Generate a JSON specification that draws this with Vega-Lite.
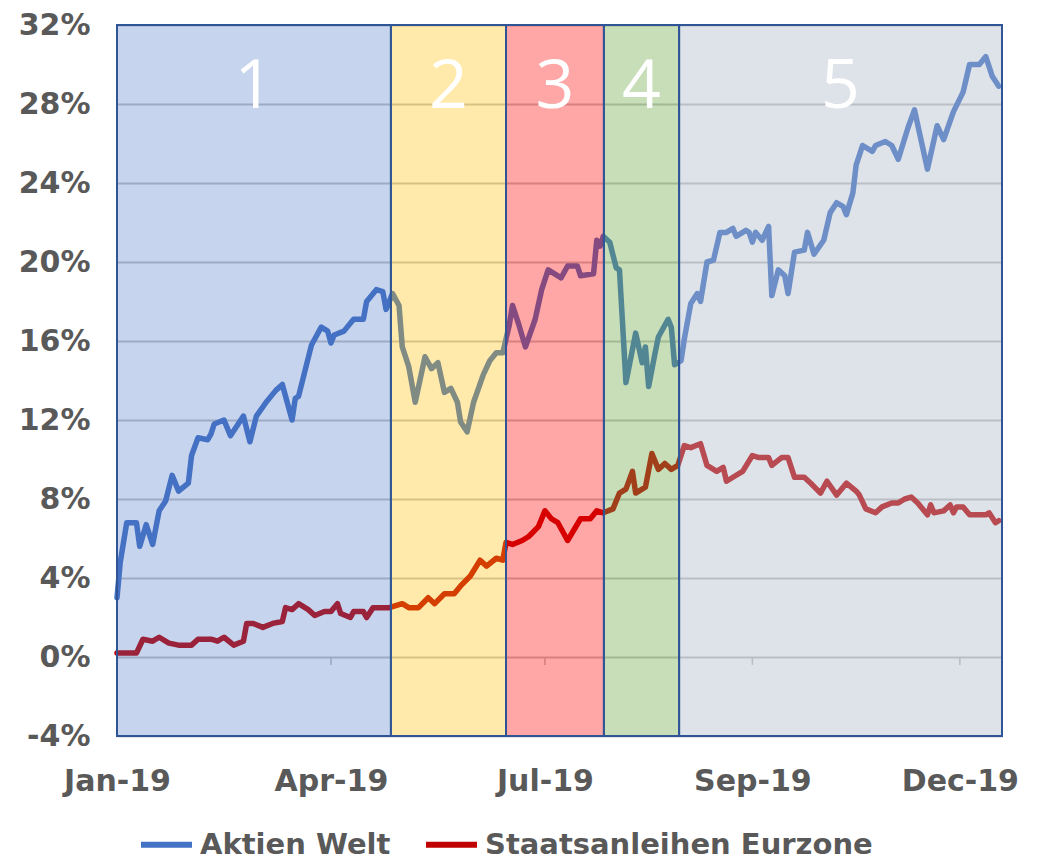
{
  "$schema": "https://vega.github.io/schema/vega-lite/v6.json",
  "width": 885,
  "height": 711,
  "autosize": {"type": "none"},
  "padding": {"left": 117, "top": 25, "right": 37, "bottom": 124},
  "background": "white",
  "config": {"view": {"stroke": null}},
  "datasets": {
    "linien": [
      {"t": 0, "v": 3.0, "serie": "Aktien Welt"}, {"t": 1, "v": 4.8, "serie": "Aktien Welt"}, {"t": 3, "v": 6.8, "serie": "Aktien Welt"}, {"t": 6, "v": 6.8, "serie": "Aktien Welt"}, {"t": 7, "v": 5.6, "serie": "Aktien Welt"}, {"t": 9, "v": 6.7, "serie": "Aktien Welt"}, {"t": 11, "v": 5.7, "serie": "Aktien Welt"}, {"t": 13, "v": 7.4, "serie": "Aktien Welt"}, {"t": 15, "v": 7.9, "serie": "Aktien Welt"}, {"t": 17, "v": 9.2, "serie": "Aktien Welt"}, {"t": 19, "v": 8.4, "serie": "Aktien Welt"}, {"t": 22, "v": 8.8, "serie": "Aktien Welt"}, {"t": 23, "v": 10.2, "serie": "Aktien Welt"}, {"t": 25, "v": 11.1, "serie": "Aktien Welt"}, {"t": 28, "v": 11.0, "serie": "Aktien Welt"}, {"t": 29, "v": 11.3, "serie": "Aktien Welt"}, {"t": 30, "v": 11.8, "serie": "Aktien Welt"}, {"t": 33, "v": 12.0, "serie": "Aktien Welt"}, {"t": 35, "v": 11.2, "serie": "Aktien Welt"}, {"t": 39, "v": 12.2, "serie": "Aktien Welt"}, {"t": 41, "v": 10.9, "serie": "Aktien Welt"}, {"t": 43, "v": 12.2, "serie": "Aktien Welt"}, {"t": 46, "v": 12.9, "serie": "Aktien Welt"}, {"t": 49, "v": 13.5, "serie": "Aktien Welt"}, {"t": 51, "v": 13.8, "serie": "Aktien Welt"}, {"t": 54, "v": 12.0, "serie": "Aktien Welt"}, {"t": 55, "v": 13.1, "serie": "Aktien Welt"}, {"t": 56, "v": 13.2, "serie": "Aktien Welt"}, {"t": 58, "v": 14.5, "serie": "Aktien Welt"}, {"t": 60, "v": 15.8, "serie": "Aktien Welt"}, {"t": 63, "v": 16.7, "serie": "Aktien Welt"}, {"t": 65, "v": 16.5, "serie": "Aktien Welt"}, {"t": 66, "v": 15.9, "serie": "Aktien Welt"}, {"t": 67, "v": 16.3, "serie": "Aktien Welt"}, {"t": 70, "v": 16.5, "serie": "Aktien Welt"}, {"t": 73, "v": 17.1, "serie": "Aktien Welt"}, {"t": 76, "v": 17.1, "serie": "Aktien Welt"}, {"t": 77, "v": 18.0, "serie": "Aktien Welt"}, {"t": 80, "v": 18.6, "serie": "Aktien Welt"}, {"t": 82, "v": 18.5, "serie": "Aktien Welt"}, {"t": 83, "v": 17.6, "serie": "Aktien Welt"}, {"t": 85, "v": 18.4, "serie": "Aktien Welt"}, {"t": 87, "v": 17.8, "serie": "Aktien Welt"}, {"t": 88, "v": 15.7, "serie": "Aktien Welt"}, {"t": 90, "v": 14.7, "serie": "Aktien Welt"}, {"t": 92, "v": 12.9, "serie": "Aktien Welt"}, {"t": 95, "v": 15.2, "serie": "Aktien Welt"}, {"t": 97, "v": 14.6, "serie": "Aktien Welt"}, {"t": 99, "v": 14.9, "serie": "Aktien Welt"}, {"t": 101, "v": 13.4, "serie": "Aktien Welt"}, {"t": 103, "v": 13.6, "serie": "Aktien Welt"}, {"t": 105, "v": 12.9, "serie": "Aktien Welt"}, {"t": 106, "v": 11.9, "serie": "Aktien Welt"}, {"t": 108, "v": 11.4, "serie": "Aktien Welt"}, {"t": 110, "v": 12.9, "serie": "Aktien Welt"}, {"t": 113, "v": 14.3, "serie": "Aktien Welt"}, {"t": 115, "v": 15.0, "serie": "Aktien Welt"}, {"t": 117, "v": 15.4, "serie": "Aktien Welt"}, {"t": 119, "v": 15.4, "serie": "Aktien Welt"}, {"t": 121, "v": 16.8, "serie": "Aktien Welt"}, {"t": 122, "v": 17.8, "serie": "Aktien Welt"}, {"t": 124, "v": 16.8, "serie": "Aktien Welt"}, {"t": 126, "v": 15.7, "serie": "Aktien Welt"}, {"t": 129, "v": 17.1, "serie": "Aktien Welt"}, {"t": 131, "v": 18.6, "serie": "Aktien Welt"}, {"t": 133, "v": 19.6, "serie": "Aktien Welt"}, {"t": 137, "v": 19.2, "serie": "Aktien Welt"}, {"t": 139, "v": 19.8, "serie": "Aktien Welt"}, {"t": 142, "v": 19.8, "serie": "Aktien Welt"}, {"t": 143, "v": 19.3, "serie": "Aktien Welt"}, {"t": 147, "v": 19.4, "serie": "Aktien Welt"}, {"t": 148, "v": 21.1, "serie": "Aktien Welt"}, {"t": 149, "v": 20.8, "serie": "Aktien Welt"}, {"t": 150, "v": 21.3, "serie": "Aktien Welt"}, {"t": 152, "v": 21.0, "serie": "Aktien Welt"}, {"t": 154, "v": 19.7, "serie": "Aktien Welt"}, {"t": 155, "v": 19.6, "serie": "Aktien Welt"}, {"t": 157, "v": 13.9, "serie": "Aktien Welt"}, {"t": 160, "v": 16.4, "serie": "Aktien Welt"}, {"t": 162, "v": 14.9, "serie": "Aktien Welt"}, {"t": 163, "v": 15.7, "serie": "Aktien Welt"}, {"t": 164, "v": 13.7, "serie": "Aktien Welt"}, {"t": 166, "v": 15.4, "serie": "Aktien Welt"}, {"t": 167, "v": 16.2, "serie": "Aktien Welt"}, {"t": 170, "v": 17.1, "serie": "Aktien Welt"}, {"t": 171, "v": 16.7, "serie": "Aktien Welt"}, {"t": 172, "v": 14.8, "serie": "Aktien Welt"}, {"t": 174, "v": 15.0, "serie": "Aktien Welt"}, {"t": 175, "v": 16.1, "serie": "Aktien Welt"}, {"t": 177, "v": 17.9, "serie": "Aktien Welt"}, {"t": 179, "v": 18.4, "serie": "Aktien Welt"}, {"t": 180, "v": 18.0, "serie": "Aktien Welt"}, {"t": 182, "v": 20.0, "serie": "Aktien Welt"}, {"t": 184, "v": 20.1, "serie": "Aktien Welt"}, {"t": 186, "v": 21.5, "serie": "Aktien Welt"}, {"t": 188, "v": 21.5, "serie": "Aktien Welt"}, {"t": 190, "v": 21.7, "serie": "Aktien Welt"}, {"t": 191, "v": 21.3, "serie": "Aktien Welt"}, {"t": 194, "v": 21.6, "serie": "Aktien Welt"}, {"t": 195, "v": 21.5, "serie": "Aktien Welt"}, {"t": 196, "v": 21.0, "serie": "Aktien Welt"}, {"t": 197, "v": 21.5, "serie": "Aktien Welt"}, {"t": 199, "v": 21.1, "serie": "Aktien Welt"}, {"t": 201, "v": 21.8, "serie": "Aktien Welt"}, {"t": 202, "v": 18.3, "serie": "Aktien Welt"}, {"t": 204, "v": 19.6, "serie": "Aktien Welt"}, {"t": 206, "v": 19.3, "serie": "Aktien Welt"}, {"t": 207, "v": 18.4, "serie": "Aktien Welt"}, {"t": 209, "v": 20.5, "serie": "Aktien Welt"}, {"t": 212, "v": 20.6, "serie": "Aktien Welt"}, {"t": 213, "v": 21.5, "serie": "Aktien Welt"}, {"t": 215, "v": 20.4, "serie": "Aktien Welt"}, {"t": 218, "v": 21.1, "serie": "Aktien Welt"}, {"t": 220, "v": 22.5, "serie": "Aktien Welt"}, {"t": 222, "v": 23.0, "serie": "Aktien Welt"}, {"t": 224, "v": 22.8, "serie": "Aktien Welt"}, {"t": 225, "v": 22.4, "serie": "Aktien Welt"}, {"t": 227, "v": 23.5, "serie": "Aktien Welt"}, {"t": 228, "v": 24.9, "serie": "Aktien Welt"}, {"t": 230, "v": 25.9, "serie": "Aktien Welt"}, {"t": 233, "v": 25.6, "serie": "Aktien Welt"}, {"t": 234, "v": 25.9, "serie": "Aktien Welt"}, {"t": 237, "v": 26.1, "serie": "Aktien Welt"}, {"t": 239, "v": 25.9, "serie": "Aktien Welt"}, {"t": 241, "v": 25.2, "serie": "Aktien Welt"}, {"t": 244, "v": 26.8, "serie": "Aktien Welt"}, {"t": 246, "v": 27.7, "serie": "Aktien Welt"}, {"t": 248, "v": 26.2, "serie": "Aktien Welt"}, {"t": 250, "v": 24.7, "serie": "Aktien Welt"}, {"t": 253, "v": 26.9, "serie": "Aktien Welt"}, {"t": 255, "v": 26.2, "serie": "Aktien Welt"}, {"t": 258, "v": 27.6, "serie": "Aktien Welt"}, {"t": 261, "v": 28.6, "serie": "Aktien Welt"}, {"t": 263, "v": 30.0, "serie": "Aktien Welt"}, {"t": 266, "v": 30.0, "serie": "Aktien Welt"}, {"t": 268, "v": 30.4, "serie": "Aktien Welt"}, {"t": 270, "v": 29.4, "serie": "Aktien Welt"}, {"t": 272, "v": 28.9, "serie": "Aktien Welt"},
      {"t": 0, "v": 0.2, "serie": "Staatsanleihen Eurzone"}, {"t": 6, "v": 0.2, "serie": "Staatsanleihen Eurzone"}, {"t": 8, "v": 0.9, "serie": "Staatsanleihen Eurzone"}, {"t": 11, "v": 0.8, "serie": "Staatsanleihen Eurzone"}, {"t": 13, "v": 1.0, "serie": "Staatsanleihen Eurzone"}, {"t": 16, "v": 0.7, "serie": "Staatsanleihen Eurzone"}, {"t": 19, "v": 0.6, "serie": "Staatsanleihen Eurzone"}, {"t": 23, "v": 0.6, "serie": "Staatsanleihen Eurzone"}, {"t": 25, "v": 0.9, "serie": "Staatsanleihen Eurzone"}, {"t": 29, "v": 0.9, "serie": "Staatsanleihen Eurzone"}, {"t": 31, "v": 0.8, "serie": "Staatsanleihen Eurzone"}, {"t": 33, "v": 1.0, "serie": "Staatsanleihen Eurzone"}, {"t": 36, "v": 0.6, "serie": "Staatsanleihen Eurzone"}, {"t": 39, "v": 0.8, "serie": "Staatsanleihen Eurzone"}, {"t": 40, "v": 1.7, "serie": "Staatsanleihen Eurzone"}, {"t": 42, "v": 1.7, "serie": "Staatsanleihen Eurzone"}, {"t": 45, "v": 1.5, "serie": "Staatsanleihen Eurzone"}, {"t": 48, "v": 1.7, "serie": "Staatsanleihen Eurzone"}, {"t": 51, "v": 1.8, "serie": "Staatsanleihen Eurzone"}, {"t": 52, "v": 2.5, "serie": "Staatsanleihen Eurzone"}, {"t": 54, "v": 2.4, "serie": "Staatsanleihen Eurzone"}, {"t": 56, "v": 2.7, "serie": "Staatsanleihen Eurzone"}, {"t": 59, "v": 2.4, "serie": "Staatsanleihen Eurzone"}, {"t": 61, "v": 2.1, "serie": "Staatsanleihen Eurzone"}, {"t": 64, "v": 2.3, "serie": "Staatsanleihen Eurzone"}, {"t": 66, "v": 2.3, "serie": "Staatsanleihen Eurzone"}, {"t": 68, "v": 2.7, "serie": "Staatsanleihen Eurzone"}, {"t": 69, "v": 2.2, "serie": "Staatsanleihen Eurzone"}, {"t": 72, "v": 2.0, "serie": "Staatsanleihen Eurzone"}, {"t": 73, "v": 2.3, "serie": "Staatsanleihen Eurzone"}, {"t": 76, "v": 2.3, "serie": "Staatsanleihen Eurzone"}, {"t": 77, "v": 2.0, "serie": "Staatsanleihen Eurzone"}, {"t": 79, "v": 2.5, "serie": "Staatsanleihen Eurzone"}, {"t": 84, "v": 2.5, "serie": "Staatsanleihen Eurzone"}, {"t": 88, "v": 2.7, "serie": "Staatsanleihen Eurzone"}, {"t": 90, "v": 2.5, "serie": "Staatsanleihen Eurzone"}, {"t": 93, "v": 2.5, "serie": "Staatsanleihen Eurzone"}, {"t": 96, "v": 3.0, "serie": "Staatsanleihen Eurzone"}, {"t": 98, "v": 2.7, "serie": "Staatsanleihen Eurzone"}, {"t": 101, "v": 3.2, "serie": "Staatsanleihen Eurzone"}, {"t": 104, "v": 3.2, "serie": "Staatsanleihen Eurzone"}, {"t": 106, "v": 3.6, "serie": "Staatsanleihen Eurzone"}, {"t": 109, "v": 4.1, "serie": "Staatsanleihen Eurzone"}, {"t": 112, "v": 4.9, "serie": "Staatsanleihen Eurzone"}, {"t": 114, "v": 4.6, "serie": "Staatsanleihen Eurzone"}, {"t": 117, "v": 5.0, "serie": "Staatsanleihen Eurzone"}, {"t": 119, "v": 4.9, "serie": "Staatsanleihen Eurzone"}, {"t": 120, "v": 5.8, "serie": "Staatsanleihen Eurzone"}, {"t": 122, "v": 5.7, "serie": "Staatsanleihen Eurzone"}, {"t": 125, "v": 5.9, "serie": "Staatsanleihen Eurzone"}, {"t": 127, "v": 6.1, "serie": "Staatsanleihen Eurzone"}, {"t": 130, "v": 6.6, "serie": "Staatsanleihen Eurzone"}, {"t": 132, "v": 7.4, "serie": "Staatsanleihen Eurzone"}, {"t": 134, "v": 7.0, "serie": "Staatsanleihen Eurzone"}, {"t": 136, "v": 6.8, "serie": "Staatsanleihen Eurzone"}, {"t": 139, "v": 5.9, "serie": "Staatsanleihen Eurzone"}, {"t": 143, "v": 7.0, "serie": "Staatsanleihen Eurzone"}, {"t": 146, "v": 7.0, "serie": "Staatsanleihen Eurzone"}, {"t": 148, "v": 7.4, "serie": "Staatsanleihen Eurzone"}, {"t": 150, "v": 7.3, "serie": "Staatsanleihen Eurzone"}, {"t": 153, "v": 7.5, "serie": "Staatsanleihen Eurzone"}, {"t": 155, "v": 8.3, "serie": "Staatsanleihen Eurzone"}, {"t": 157, "v": 8.5, "serie": "Staatsanleihen Eurzone"}, {"t": 159, "v": 9.4, "serie": "Staatsanleihen Eurzone"}, {"t": 160, "v": 8.3, "serie": "Staatsanleihen Eurzone"}, {"t": 163, "v": 8.6, "serie": "Staatsanleihen Eurzone"}, {"t": 165, "v": 10.3, "serie": "Staatsanleihen Eurzone"}, {"t": 167, "v": 9.5, "serie": "Staatsanleihen Eurzone"}, {"t": 169, "v": 9.8, "serie": "Staatsanleihen Eurzone"}, {"t": 171, "v": 9.5, "serie": "Staatsanleihen Eurzone"}, {"t": 173, "v": 9.7, "serie": "Staatsanleihen Eurzone"}, {"t": 175, "v": 10.7, "serie": "Staatsanleihen Eurzone"}, {"t": 177, "v": 10.6, "serie": "Staatsanleihen Eurzone"}, {"t": 180, "v": 10.8, "serie": "Staatsanleihen Eurzone"}, {"t": 182, "v": 9.7, "serie": "Staatsanleihen Eurzone"}, {"t": 185, "v": 9.4, "serie": "Staatsanleihen Eurzone"}, {"t": 187, "v": 9.6, "serie": "Staatsanleihen Eurzone"}, {"t": 188, "v": 8.9, "serie": "Staatsanleihen Eurzone"}, {"t": 190, "v": 9.1, "serie": "Staatsanleihen Eurzone"}, {"t": 193, "v": 9.4, "serie": "Staatsanleihen Eurzone"}, {"t": 196, "v": 10.2, "serie": "Staatsanleihen Eurzone"}, {"t": 198, "v": 10.1, "serie": "Staatsanleihen Eurzone"}, {"t": 201, "v": 10.1, "serie": "Staatsanleihen Eurzone"}, {"t": 202, "v": 9.7, "serie": "Staatsanleihen Eurzone"}, {"t": 205, "v": 10.1, "serie": "Staatsanleihen Eurzone"}, {"t": 207, "v": 10.1, "serie": "Staatsanleihen Eurzone"}, {"t": 209, "v": 9.1, "serie": "Staatsanleihen Eurzone"}, {"t": 212, "v": 9.1, "serie": "Staatsanleihen Eurzone"}, {"t": 214, "v": 8.8, "serie": "Staatsanleihen Eurzone"}, {"t": 217, "v": 8.3, "serie": "Staatsanleihen Eurzone"}, {"t": 219, "v": 8.9, "serie": "Staatsanleihen Eurzone"}, {"t": 222, "v": 8.2, "serie": "Staatsanleihen Eurzone"}, {"t": 225, "v": 8.8, "serie": "Staatsanleihen Eurzone"}, {"t": 228, "v": 8.4, "serie": "Staatsanleihen Eurzone"}, {"t": 229, "v": 8.2, "serie": "Staatsanleihen Eurzone"}, {"t": 231, "v": 7.5, "serie": "Staatsanleihen Eurzone"}, {"t": 234, "v": 7.3, "serie": "Staatsanleihen Eurzone"}, {"t": 236, "v": 7.6, "serie": "Staatsanleihen Eurzone"}, {"t": 239, "v": 7.8, "serie": "Staatsanleihen Eurzone"}, {"t": 241, "v": 7.8, "serie": "Staatsanleihen Eurzone"}, {"t": 243, "v": 8.0, "serie": "Staatsanleihen Eurzone"}, {"t": 245, "v": 8.1, "serie": "Staatsanleihen Eurzone"}, {"t": 247, "v": 7.8, "serie": "Staatsanleihen Eurzone"}, {"t": 250, "v": 7.2, "serie": "Staatsanleihen Eurzone"}, {"t": 251, "v": 7.7, "serie": "Staatsanleihen Eurzone"}, {"t": 252, "v": 7.3, "serie": "Staatsanleihen Eurzone"}, {"t": 255, "v": 7.4, "serie": "Staatsanleihen Eurzone"}, {"t": 257, "v": 7.7, "serie": "Staatsanleihen Eurzone"}, {"t": 258, "v": 7.3, "serie": "Staatsanleihen Eurzone"}, {"t": 259, "v": 7.6, "serie": "Staatsanleihen Eurzone"}, {"t": 261, "v": 7.6, "serie": "Staatsanleihen Eurzone"}, {"t": 263, "v": 7.2, "serie": "Staatsanleihen Eurzone"}, {"t": 266, "v": 7.2, "serie": "Staatsanleihen Eurzone"}, {"t": 268, "v": 7.2, "serie": "Staatsanleihen Eurzone"}, {"t": 269, "v": 7.3, "serie": "Staatsanleihen Eurzone"}, {"t": 271, "v": 6.8, "serie": "Staatsanleihen Eurzone"}, {"t": 272, "v": 6.9, "serie": "Staatsanleihen Eurzone"}
    ],
    "phasen": [
      {"phase": "1", "start": 0, "ende": 84.5, "mitte": 42.25},
      {"phase": "2", "start": 84.5, "ende": 120, "mitte": 102.25},
      {"phase": "3", "start": 120, "ende": 150.2, "mitte": 135.1},
      {"phase": "4", "start": 150.2, "ende": 173.4, "mitte": 161.8},
      {"phase": "5", "start": 173.4, "ende": 273, "mitte": 223.2}
    ],
    "ticks": [{"t": 0}, {"t": 66}, {"t": 132}, {"t": 196}, {"t": 260}]
  },
  "layer": [
    {
      "data": {"name": "ticks"},
      "mark": {"type": "rule", "color": "#bfbfbf", "strokeWidth": 1.5},
      "encoding": {
        "x": {"field": "t", "type": "quantitative", "scale": {"domain": [0, 273], "nice": false, "zero": false},
          "axis": {"values": [0, 66, 132, 196, 260], "labelExpr": "datum.value == 0 ? 'Jan-19' : datum.value == 66 ? 'Apr-19' : datum.value == 132 ? 'Jul-19' : datum.value == 196 ? 'Sep-19' : 'Dec-19'", "title": null, "grid": false, "ticks": false, "domain": false, "labelFont": "DejaVu Sans", "labelFontWeight": "bold", "labelFontSize": 30, "labelColor": "#595959", "labelPadding": 30, "labelFlush": false, "labelOverlap": false}},
        "y": {"datum": 0, "type": "quantitative", "scale": {"domain": [-4, 32], "nice": false, "zero": false},
          "axis": {"values": [-4, 0, 4, 8, 12, 16, 20, 24, 28, 32], "labelExpr": "datum.value + '%'", "title": null, "grid": true, "gridColor": "#c4c4c4", "gridWidth": 2, "ticks": false, "domain": false, "labelFont": "DejaVu Sans", "labelFontWeight": "bold", "labelFontSize": 30, "labelColor": "#595959", "labelPadding": 27}},
        "y2": {"datum": -0.4}
      }
    },
    {
      "data": {"name": "linien"},
      "mark": {"type": "line", "strokeWidth": 5.5, "strokeJoin": "round", "strokeCap": "round"},
      "encoding": {
        "x": {"field": "t", "type": "quantitative"},
        "y": {"field": "v", "type": "quantitative"},
        "color": {"field": "serie", "type": "nominal",
          "scale": {"domain": ["Aktien Welt", "Staatsanleihen Eurzone"], "range": ["#4472c4", "#c00000"]},
          "legend": {"orient": "none", "legendX": 21, "legendY": 791, "direction": "horizontal", "title": null, "symbolType": "stroke", "symbolSize": 2601, "symbolStrokeWidth": 6, "labelFont": "DejaVu Sans", "labelFontWeight": "bold", "labelFontSize": 29, "labelColor": "#595959", "columnPadding": 23, "labelOffset": 5, "padding": 0, "labelLimit": 0}}
      }
    },
    {
      "data": {"name": "phasen"},
      "mark": {"type": "rect", "stroke": "#2f5597", "strokeWidth": 2, "strokeOpacity": 1},
      "encoding": {
        "x": {"field": "start", "type": "quantitative"},
        "x2": {"field": "ende"},
        "y": {"datum": -4, "type": "quantitative"},
        "y2": {"datum": 32},
        "fill": {"field": "phase", "type": "nominal", "legend": null,
          "scale": {"domain": ["1", "2", "3", "4", "5"], "range": ["#4472c4", "#ffc000", "#ff0000", "#6aa842", "#adb9ca"]}},
        "fillOpacity": {"field": "phase", "type": "nominal", "legend": null,
          "scale": {"domain": ["1", "2", "3", "4", "5"], "range": [0.3, 0.4, 0.33, 0.62, 0.45]}}
      }
    },
    {
      "data": {"name": "phasen"},
      "mark": {"type": "text", "color": "white", "font": "Open Sans", "fontSize": 68, "baseline": "alphabetic", "align": "center"},
      "encoding": {
        "x": {"field": "mitte", "type": "quantitative"},
        "y": {"datum": 27.8, "type": "quantitative"},
        "text": {"field": "phase"}
      }
    }
  ]
}
